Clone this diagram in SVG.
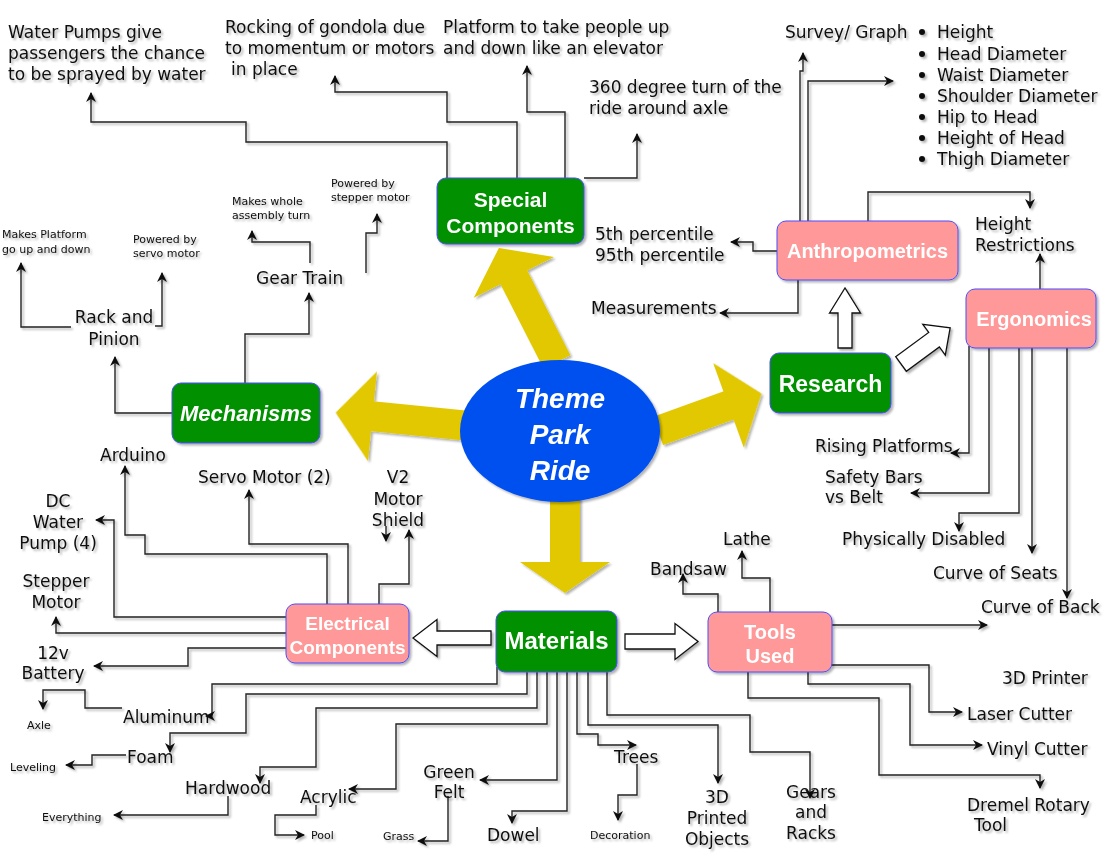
<svg xmlns="http://www.w3.org/2000/svg" width="1103" height="856" viewBox="0 0 1103 856">
<defs>
<filter id="sh" x="-10%" y="-10%" width="130%" height="140%"><feDropShadow dx="2" dy="2" stdDeviation="1.3" flood-color="#000" flood-opacity="0.3"/></filter>
<marker id="ah" viewBox="0 0 10 10" markerWidth="10" markerHeight="10" refX="9" refY="5" orient="auto" markerUnits="userSpaceOnUse"><path d="M0,0 L10,5 L0,10 L3,5 Z" fill="#111"/></marker>
<style>
.t{font-family:"DejaVu Sans","Noto Sans",sans-serif;font-size:17px;fill:#111}
.s{font-size:11px}
.m{text-anchor:middle}
.nl{font-family:"Liberation Sans",Arial,sans-serif;font-weight:bold;fill:#fff;text-anchor:middle}
.g{fill:#009000;stroke:#4d4dff;stroke-width:1}
.p{fill:#ff9999;stroke:#4d4dff;stroke-width:1}
.c path{fill:none;stroke:#222;stroke-width:1.4;marker-end:url(#ah)}
.ya{fill:#e1c800}
.ha{fill:#fff;stroke:#111;stroke-width:1.3}
</style>
</defs>
<rect width="1103" height="856" fill="#fff"/>

<g id="big-arrows" filter="url(#sh)">
<polygon class="ya" transform="translate(557,362) rotate(-117)" points="0,-15 95,-15 95,-45 128,0 95,45 95,15 0,15"/>
<polygon class="ya" transform="translate(470,426) rotate(-174.3)" points="0,-15 98,-15 98,-45 135,0 98,45 98,15 0,15"/>
<polygon class="ya" transform="translate(658,431) rotate(-19.9)" points="0,-15 75,-15 75,-45 110,0 75,45 75,15 0,15"/>
<polygon class="ya" transform="translate(565,495) rotate(90)" points="0,-15 67,-15 67,-45 98,0 67,45 67,15 0,15"/>
<polygon class="ha" transform="translate(845,348) rotate(-90)" points="0,-7 35,-7 35,-15.5 60,0 35,15.5 35,7 0,7"/>
<polygon class="ha" transform="translate(901,364) rotate(-36.3)" points="0,-9 41,-9 41,-19 61,0 41,19 41,9 0,9"/>
<polygon class="ha" transform="translate(491,638) rotate(180)" points="0,-7 54,-7 54,-18.5 78,0 54,18.5 54,7 0,7"/>
<polygon class="ha" transform="translate(625,641.5)" points="0,-7.5 50,-7.5 50,-18 73,0 50,18 50,7.5 0,7.5"/>
</g>

<g id="connectors" class="c" filter="url(#sh)">
<path d="M447,178 V142 H246 V122 H91 V93"/>
<path d="M517,178 V122 H447 V92 H335 V76"/>
<path d="M565,190 V112 H527 V66"/>
<path d="M584,178 H637 V134"/>
<path d="M800,221 V71 H803 V53"/>
<path d="M808,221 V81 H893"/>
<path d="M868,221 V192 H1030 V208"/>
<path d="M777,251 H753 V242 H731"/>
<path d="M798,280 V313 H720"/>
<path d="M1040,289 V254"/>
<path d="M969,346 V453 H951"/>
<path d="M989,348 V493 H911"/>
<path d="M1019,348 V513 H959 V531"/>
<path d="M1032,348 V553"/>
<path d="M1067,348 V598"/>
<path d="M172,413 H115 V357"/>
<path d="M245,383 V334 H309 V293"/>
<path d="M71,327 H21 V263"/>
<path d="M155,326 H162 V273"/>
<path d="M310,263 V242 H252 V231"/>
<path d="M366,273 V233 H377 V214"/>
<path d="M327,604 V554 H145 V535 H125 V466"/>
<path d="M348,604 V544 H249 V490"/>
<path d="M379,604 V584 H409 V530"/>
<path d="M386,526 V541"/>
<path d="M286,617 H114 V520 H96"/>
<path d="M286,633 H56 V617"/>
<path d="M286,648 H188 V666 H94"/>
<path d="M122,708 H85 V690 H43 V709"/>
<path d="M126,755 H92 V765 H66"/>
<path d="M228,796 V815 H114"/>
<path d="M316,805 V815 H275 V835 H304"/>
<path d="M448,796 V841 H418"/>
<path d="M637,764 V795 H618 V820"/>
<path d="M497,667 V684 H212 V716 H206"/>
<path d="M527,672 V694 H246 V733 H170 V752"/>
<path d="M537,672 V708 H316 V767 H260 V783"/>
<path d="M547,672 V724 H396 V789 H349"/>
<path d="M557,672 V780 H480"/>
<path d="M567,672 V811 H512 V823"/>
<path d="M577,672 V734 H598 V745 H636"/>
<path d="M588,672 V725 H718 V783"/>
<path d="M607,672 V715 H750 V752 H810 V798"/>
<path d="M718,612 V594 H683 V574"/>
<path d="M770,612 V578 H742 V551"/>
<path d="M832,625 H987"/>
<path d="M831,665 H929 V712 H962"/>
<path d="M808,672 V684 H910 V745 H982"/>
<path d="M748,672 V698 H879 V775 H1040 V788"/>
</g>

<g id="theme-park-ride" filter="url(#sh)">
<ellipse cx="560" cy="431" rx="100" ry="71" fill="#0050ef"/>
<text class="nl" font-size="28" font-style="italic" x="560" y="408">Theme</text>
<text class="nl" font-size="28" font-style="italic" x="560" y="444">Park</text>
<text class="nl" font-size="28" font-style="italic" x="560" y="480">Ride</text>
</g>
<g id="special-components" filter="url(#sh)">
<rect class="g" x="437" y="178" width="147" height="66" rx="9"/>
<text class="nl" font-size="21" x="510.5" y="207">Special</text>
<text class="nl" font-size="21" x="510.5" y="233">Components</text>
</g>
<g id="mechanisms" filter="url(#sh)">
<rect class="g" x="172" y="383" width="148" height="60" rx="9"/>
<text class="nl" font-size="22" font-style="italic" x="246" y="421">Mechanisms</text>
</g>
<g id="research" filter="url(#sh)">
<rect class="g" x="770" y="353" width="121" height="60" rx="9"/>
<text class="nl" font-size="23" x="830.5" y="392">Research</text>
</g>
<g id="anthropometrics" filter="url(#sh)">
<rect class="p" x="777" y="221" width="181" height="59" rx="9"/>
<text class="nl" font-size="20" x="867.5" y="258">Anthropometrics</text>
</g>
<g id="ergonomics" filter="url(#sh)">
<rect class="p" x="966" y="289" width="130" height="59" rx="9"/>
<text class="nl" font-size="20" x="1034" y="326">Ergonomics</text>
</g>
<g id="electrical-components" filter="url(#sh)">
<rect class="p" x="286" y="604" width="123" height="59" rx="9"/>
<text class="nl" font-size="19" x="347.5" y="630">Electrical</text>
<text class="nl" font-size="19" x="347.5" y="654">Components</text>
</g>
<g id="materials" filter="url(#sh)">
<rect class="g" x="496" y="611" width="121" height="61" rx="9"/>
<text class="nl" font-size="24" x="556.5" y="649">Materials</text>
</g>
<g id="tools-used" filter="url(#sh)">
<rect class="p" x="708" y="612" width="124" height="60" rx="9"/>
<text class="nl" font-size="20" x="770" y="639">Tools</text>
<text class="nl" font-size="20" x="770" y="663">Used</text>
</g>

<g id="labels" filter="url(#sh)">
<text class="t" x="8" y="38">Water Pumps give</text>
<text class="t" x="8" y="59">passengers the chance</text>
<text class="t" x="8" y="80">to be sprayed by water</text>
<text class="t" x="225" y="33">Rocking of gondola due</text>
<text class="t" x="225" y="54">to momentum or motors</text>
<text class="t" x="231" y="75">in place</text>
<text class="t" x="443" y="33">Platform to take people up</text>
<text class="t" x="443" y="54">and down like an elevator</text>
<text class="t" x="589" y="93">360 degree turn of the</text>
<text class="t" x="589" y="114">ride around axle</text>
<text class="t" x="785" y="38">Survey/ Graph</text>
<g id="bullets">
<circle cx="922" cy="32" r="3" fill="#111"/><text class="t" x="937" y="38">Height</text>
<circle cx="922" cy="54" r="3" fill="#111"/><text class="t" x="937" y="60">Head Diameter</text>
<circle cx="922" cy="75" r="3" fill="#111"/><text class="t" x="937" y="81">Waist Diameter</text>
<circle cx="922" cy="96" r="3" fill="#111"/><text class="t" x="937" y="102">Shoulder Diameter</text>
<circle cx="922" cy="117" r="3" fill="#111"/><text class="t" x="937" y="123">Hip to Head</text>
<circle cx="922" cy="138" r="3" fill="#111"/><text class="t" x="937" y="144">Height of Head</text>
<circle cx="922" cy="159" r="3" fill="#111"/><text class="t" x="937" y="165">Thigh Diameter</text>
</g>
<text class="t" x="975" y="230">Height</text>
<text class="t" x="975" y="251">Restrictions</text>
<text class="t" x="595" y="240">5th percentile</text>
<text class="t" x="595" y="261">95th percentile</text>
<text class="t" x="591" y="314">Measurements</text>
<text class="t s" x="2" y="238">Makes Platform</text>
<text class="t s" x="2" y="253">go up and down</text>
<text class="t s" x="133" y="243">Powered by</text>
<text class="t s" x="133" y="257">servo motor</text>
<text class="t s" x="232" y="205">Makes whole</text>
<text class="t s" x="232" y="219">assembly turn</text>
<text class="t s" x="331" y="187">Powered by</text>
<text class="t s" x="331" y="201">stepper motor</text>
<text class="t" x="256" y="284">Gear Train</text>
<text class="t m" x="114" y="323">Rack and</text>
<text class="t m" x="114" y="345">Pinion</text>
<text class="t" x="100" y="461">Arduino</text>
<text class="t" x="198" y="483">Servo Motor (2)</text>
<text class="t m" x="398" y="483">V2</text>
<text class="t m" x="398" y="505">Motor</text>
<text class="t m" x="398" y="526">Shield</text>
<text class="t m" x="58" y="507">DC</text>
<text class="t m" x="58" y="528">Water</text>
<text class="t m" x="58" y="549">Pump (4)</text>
<text class="t m" x="56" y="587">Stepper</text>
<text class="t m" x="56" y="608">Motor</text>
<text class="t m" x="53" y="659">12v</text>
<text class="t m" x="53" y="679">Battery</text>
<text class="t" x="123" y="723">Aluminum</text>
<text class="t s" x="27" y="729">Axle</text>
<text class="t" x="127" y="763">Foam</text>
<text class="t s" x="10" y="771">Leveling</text>
<text class="t" x="185" y="794">Hardwood</text>
<text class="t s" x="42" y="821">Everything</text>
<text class="t" x="300" y="803">Acrylic</text>
<text class="t s" x="311" y="839">Pool</text>
<text class="t m" x="449" y="778">Green</text>
<text class="t m" x="449" y="798">Felt</text>
<text class="t s" x="383" y="840">Grass</text>
<text class="t" x="487" y="841">Dowel</text>
<text class="t" x="614" y="763">Trees</text>
<text class="t s" x="590" y="839">Decoration</text>
<text class="t m" x="717" y="803">3D</text>
<text class="t m" x="717" y="824">Printed</text>
<text class="t m" x="717" y="845">Objects</text>
<text class="t m" x="811" y="798">Gears</text>
<text class="t m" x="811" y="818">and</text>
<text class="t m" x="811" y="839">Racks</text>
<text class="t" x="723" y="545">Lathe</text>
<text class="t" x="650" y="575">Bandsaw</text>
<text class="t" x="815" y="452">Rising Platforms</text>
<text class="t" x="825" y="483">Safety Bars</text>
<text class="t" x="825" y="503">vs Belt</text>
<text class="t" x="842" y="545">Physically Disabled</text>
<text class="t" x="933" y="579">Curve of Seats</text>
<text class="t" x="981" y="613">Curve of Back</text>
<text class="t" x="1002" y="684">3D Printer</text>
<text class="t" x="967" y="720">Laser Cutter</text>
<text class="t" x="987" y="755">Vinyl Cutter</text>
<text class="t" x="967" y="811">Dremel Rotary</text>
<text class="t" x="974" y="831">Tool</text>
</g>
</svg>
